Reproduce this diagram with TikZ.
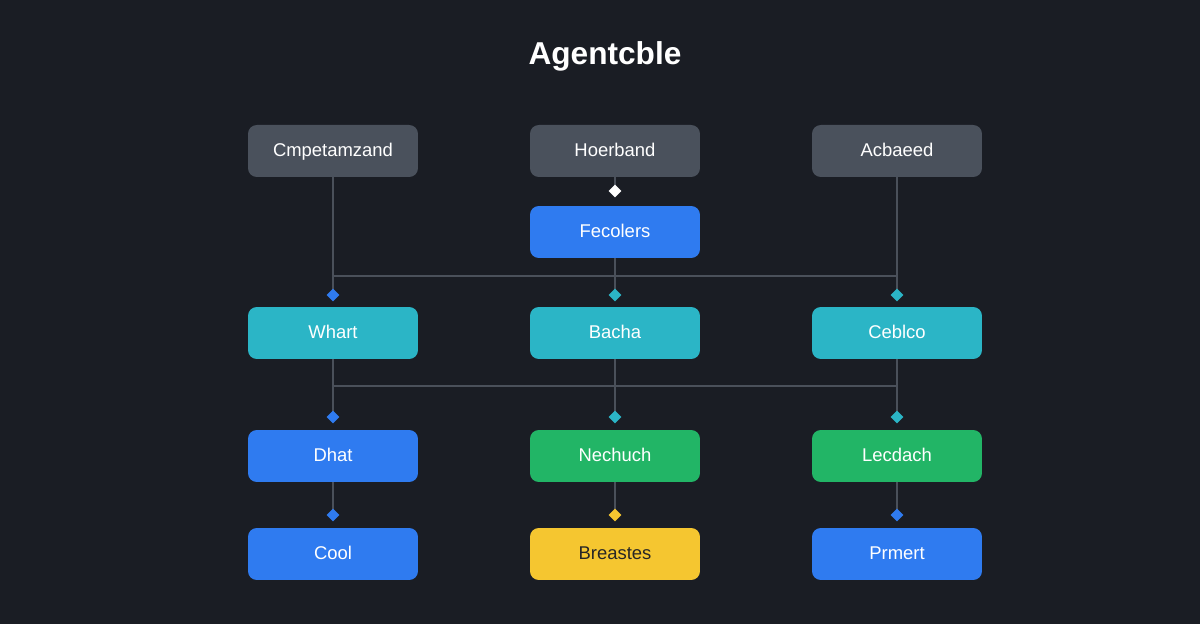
\documentclass[tikz,border=0pt]{standalone}
\usepackage{fontspec}
\setmainfont{Liberation Sans}
\usetikzlibrary{shapes.geometric}
\definecolor{bgdark}{HTML}{1A1D24}
\definecolor{boxgray}{HTML}{4A515C}
\definecolor{boxblue}{HTML}{2F7BF0}
\definecolor{boxteal}{HTML}{2BB5C6}
\definecolor{boxgreen}{HTML}{22B566}
\definecolor{boxyellow}{HTML}{F5C630}
\definecolor{wire}{HTML}{4A505A}
\def\ux{0.02cm}
\def\uy{0.02cm}
\tikzset{
  box/.style={rounded corners=5pt, minimum width=3.4cm, minimum height=1.04cm,
    text=white, font=\fontsize{10.5}{12}\selectfont, inner sep=0pt,
    text height=1.6ex, text depth=0.4ex},
  pin/.style={diamond, inner sep=0pt, minimum size=0.26cm},
  link/.style={draw=wire, line width=1.6pt}
}
\begin{document}
\begin{tikzpicture}[x=\ux,y=-\uy]
		\fill[bgdark] (0,0) rectangle (1200,624);
		\useasboundingbox (0,0) rectangle (1200,624);
		\node[text=white, font=\bfseries\fontsize{18}{20}\selectfont] (title) at (605,56) {Agentcble};

		% top row
		\node[box, fill=boxgray] (cmp) at (333,151) {Cmpetamzand};
		\node[box, fill=boxgray] (hoer) at (615,151) {Hoerband};
		\node[box, fill=boxgray] (acb) at (897,151) {Acbaeed};
		\node[box, fill=boxblue] (fec) at (615,232) {Fecolers};

		% second row
		\node[box, fill=boxteal] (what) at (333,333) {Whart};
		\node[box, fill=boxteal] (bach) at (615,333) {Bacha};
		\node[box, fill=boxteal] (ceb) at (897,333) {Ceblco};

		% third row
		\node[box, fill=boxblue] (dhat) at (333,456) {Dhat};
		\node[box, fill=boxgreen] (nech) at (615,456) {Nechuch};
		\node[box, fill=boxgreen] (lec) at (897,456) {Lecdach};

		% bottom row
		\node[box, fill=boxblue] (cool) at (333,554) {Cool};
		\node[box, fill=boxyellow, text=black!85] (brea) at (615,554) {Breastes};
		\node[box, fill=boxblue] (prm) at (897,554) {Prmert};

		% connectors (drawn first, markers go on top)
		\coordinate (p0) at (615,191);
		\coordinate (p1) at (333,295);
		\coordinate (p2) at (615,295);
		\coordinate (p3) at (897,295);
		\coordinate (q1) at (333,417);
		\coordinate (q2) at (615,417);
		\coordinate (q3) at (897,417);
		\coordinate (r1) at (333,515);
		\coordinate (r2) at (615,515);
		\coordinate (r3) at (897,515);
		\coordinate (ha) at (333,276);
		\coordinate (hb) at (897,276);
		\coordinate (ka) at (333,386);
		\coordinate (kb) at (897,386);

		\draw[link] (hoer) -- (p0);
		\draw[link] (cmp) -- (p1);
		\draw[link] (fec) -- (p2);
		\draw[link] (acb) -- (p3);
		\draw[link] (ha) -- (hb);
		\draw[link] (what) -- (q1);
		\draw[link] (bach) -- (q2);
		\draw[link] (ceb) -- (q3);
		\draw[link] (ka) -- (kb);
		\draw[link] (dhat) -- (r1);
		\draw[link] (nech) -- (r2);
		\draw[link] (lec) -- (r3);

		% markers
		\foreach \p/\c in {p0/white,p1/boxblue,p2/boxteal,p3/boxteal,q1/boxblue,q2/boxteal,q3/boxteal,r1/boxblue,r2/boxyellow,r3/boxblue}
			\node[pin, fill=\c] at (\p) {};
\end{tikzpicture}
\end{document}
